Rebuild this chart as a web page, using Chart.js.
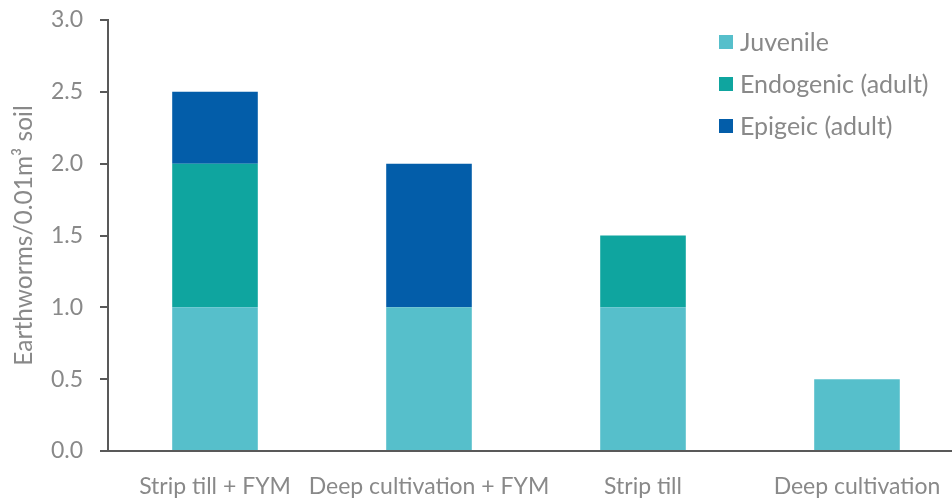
<!DOCTYPE html>
<html lang="en">
<head>
    <meta charset="UTF-8">
    <title>Earthworms by cultivation</title>
    <style>
        html, body {
            margin: 0;
            padding: 0;
            overflow: hidden;
            background: #fff;
        }
        #wrap {
            width: 964px;
            height: 498px;
        }
    </style>
</head>
<body>
    <div id="wrap"><canvas id="myChart" width="964" height="498"></canvas></div>

    <script src="https://cdn.jsdelivr.net/npm/chart.js"></script>
    <script>

const categories = ['Strip till + FYM', 'Deep cultivation + FYM', 'Strip till', 'Deep cultivation'];
const juvenile = [1.0, 1.0, 1.0, 0.5];
const endogenic = [1.0, 0, 0.5, 0];
const epigeic = [0.5, 1.0, 0, 0];
const yTicks = [0, 0.5, 1.0, 1.5, 2.0, 2.5, 3.0];

const FONT = 'Lato, "Open Sans", sans-serif';
const SIZE = 23;
const GREY = '#898989';
const AXIS = '#595959';

// legend drawn inside the plot, top right
const cornerLegend = {
    id: 'cornerLegend',
    afterDraw(chart) {
        const ctx = chart.ctx;
        ctx.save();
        ctx.font = '25px ' + FONT;
        ctx.textBaseline = 'middle';
        ctx.textAlign = 'left';
        chart.data.datasets.forEach((ds, i) => {
            const y = 42 + i * 42;
            ctx.fillStyle = ds.backgroundColor;
            ctx.fillRect(719, y - 7, 14, 14);
            ctx.fillStyle = GREY;
            ctx.fillText(ds.label, 740, y + 1);
        });
        ctx.restore();
    }
};

const ctx = document.getElementById('myChart').getContext('2d');
const chart = new Chart(ctx, {
    type: 'bar',
    data: {
        labels: categories,
        datasets: [
            { label: 'Juvenile', data: juvenile, backgroundColor: '#56BFCB' },
            { label: 'Endogenic (adult)', data: endogenic, backgroundColor: '#0FA59F' },
            { label: 'Epigeic (adult)', data: epigeic, backgroundColor: '#035DA9' }
        ]
    },
    options: {
        responsive: false,
        animation: false,
        layout: { padding: { top: 20, right: 0, left: 0, bottom: 0 } },
        datasets: {
            bar: { barPercentage: 0.4, categoryPercentage: 1.0, borderWidth: 0 }
        },
        plugins: {
            legend: { display: false },
            tooltip: { enabled: false }
        },
        scales: {
            x: {
                stacked: true,
                grid: { display: false, drawTicks: false },
                border: { color: AXIS, width: 2 },
                ticks: {
                    color: GREY,
                    font: { family: FONT, size: SIZE },
                    padding: 22,
                    maxRotation: 0,
                    autoSkip: false
                },
                afterFit(scale) {
                    scale.height = 47;
                    scale.paddingLeft = 0;
                    scale.paddingRight = 0;
                }
            },
            y: {
                stacked: true,
                min: 0,
                max: 3,
                afterBuildTicks(scale) {
                    scale.ticks = yTicks.map(v => ({ value: v }));
                },
                grid: {
                    drawOnChartArea: false,
                    drawTicks: true,
                    tickLength: 8,
                    color: AXIS,
                    lineWidth: 2
                },
                border: { color: AXIS, width: 2 },
                ticks: {
                    color: GREY,
                    font: { family: FONT, size: SIZE },
                    padding: 17,
                    callback: v => v.toFixed(1)
                },
                title: {
                    display: true,
                    text: 'Earthworms/0.01m\u00B3 soil',
                    color: GREY,
                    font: { family: FONT, size: 24.5 },
                    padding: { top: 9, bottom: 0 }
                },
                afterFit(scale) {
                    scale.width = 108;
                    scale.paddingTop = 0;
                    scale.paddingBottom = 0;
                }
            }
        }
    },
    plugins: [cornerLegend]
});

    </script>
</body>
</html>
